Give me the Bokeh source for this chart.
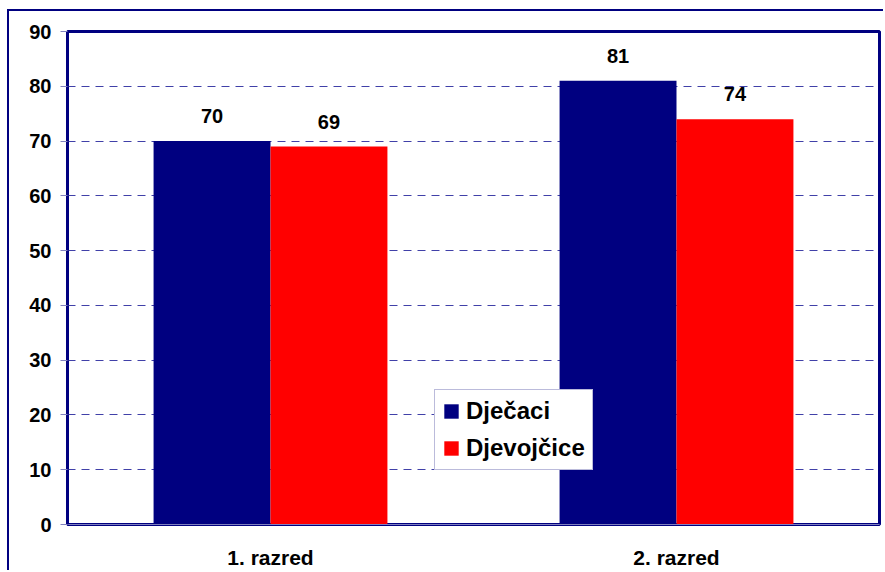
from bokeh.plotting import figure
from bokeh.models import ColumnDataSource, FactorRange, Range1d, LabelSet, Legend, LegendItem, FixedTicker
from bokeh.transform import dodge
from bokeh.core.properties import value
from bokeh.embed import file_html
from bokeh.resources import INLINE

categories = ["1. razred", "2. razred"]
djecaci = [70, 81]
djevojcice = [69, 74]
y_ticks = [0, 10, 20, 30, 40, 50, 60, 70, 80, 90]

src = ColumnDataSource(data=dict(cat=categories, d=djecaci, g=djevojcice,
                                 dl=[str(v) for v in djecaci], gl=[str(v) for v in djevojcice]))

p = figure(x_range=FactorRange(*categories, range_padding=0), y_range=Range1d(0, 90),
           width=876, height=561, output_backend="svg", toolbar_location=None,
           min_border_left=58, min_border_top=20, min_border_right=6, min_border_bottom=48)
p.margin = (9, 0, 0, 7)
p.styles = {"border-top": "2px solid #000080", "border-left": "2px solid #000080"}

FONT = "Liberation Sans"
r1 = p.vbar(x=dodge("cat", -0.144, range=p.x_range), top="d", width=0.288, source=src,
            fill_color="#000080", line_color=None)
r2 = p.vbar(x=dodge("cat", 0.144, range=p.x_range), top="g", width=0.288, source=src,
            fill_color="#FF0000", line_color=None)

for col, lab, off in (("d", "dl", -0.144), ("g", "gl", 0.144)):
    ls = LabelSet(x=dodge("cat", off, range=p.x_range), y=col, text=lab, source=src,
                  text_align="center", text_baseline="alphabetic", y_offset=18,
                  text_font=value(FONT), text_font_style="bold", text_font_size="20px",
                  text_color="black")
    p.add_layout(ls)

p.outline_line_color = "#000080"
p.outline_line_width = 3

p.xgrid.grid_line_color = None
p.ygrid.grid_line_color = "#4040a8"
p.ygrid.grid_line_dash = "8 6"
p.ygrid.grid_line_width = 1
p.ygrid.ticker = FixedTicker(ticks=y_ticks)

p.yaxis.ticker = FixedTicker(ticks=y_ticks)
p.yaxis.major_label_text_font = FONT
p.yaxis.major_label_text_font_style = "bold"
p.yaxis.major_label_text_font_size = "20px"
p.yaxis.major_label_text_color = "black"
p.yaxis.major_tick_out = 7
p.yaxis.major_tick_in = 0
p.yaxis.minor_tick_line_color = None
p.yaxis.major_tick_line_color = "#8080c0"
p.yaxis.axis_line_color = "#000080"
p.yaxis.axis_line_width = 2
p.yaxis.major_label_standoff = 9

p.xaxis.major_label_text_font = FONT
p.xaxis.major_label_text_font_style = "bold"
p.xaxis.major_label_text_font_size = "21px"
p.xaxis.major_label_text_color = "black"
p.xaxis.major_tick_line_color = None
p.xaxis.axis_line_color = "#8080c0"
p.xaxis.axis_line_width = 1
p.xaxis.major_label_standoff = 15

legend = Legend(items=[LegendItem(label="Dječaci", renderers=[r1]),
                       LegendItem(label="Djevojčice", renderers=[r2])],
                location=(367, 54))
legend.label_text_font = FONT
legend.label_text_font_style = "bold"
legend.label_text_font_size = "24px"
legend.label_text_color = "black"
legend.glyph_width = 18
legend.glyph_height = 18
legend.label_standoff = 6
legend.spacing = 9
legend.padding = 7
legend.margin = 0
legend.border_line_color = "#7878b8"
legend.border_line_width = 1.5
legend.background_fill_color = "white"
legend.background_fill_alpha = 1
p.add_layout(legend, "center")

open("out.html", "w").write(file_html(p, INLINE))
